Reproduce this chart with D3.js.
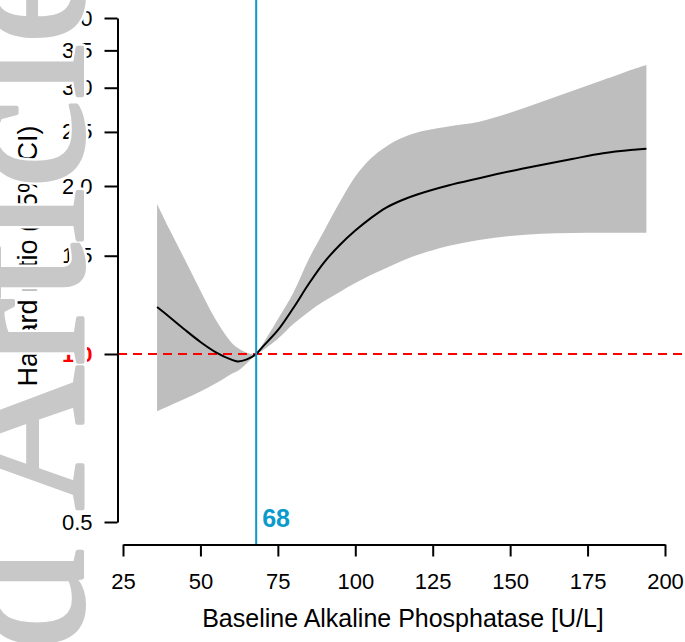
<!DOCTYPE html>
<html>
<head>
<meta charset="utf-8">
<script src="https://cdn.jsdelivr.net/npm/d3@7"></script>
<style>
  body { margin: 0; background: #fff; }
  svg { display: block; font-family: "Liberation Sans", Arial, sans-serif; }
</style>
</head>
<body>
<svg width="685" height="642"></svg>
<script>
const alp   = [36, 40, 45, 50, 55, 60, 62, 65, 68, 70, 75, 80, 85, 90, 95, 100, 105, 110, 115, 120, 130, 140, 150, 160, 170, 180, 190, 194];
// hazard ratio and its 95% CI
const hr    = [1.214, 1.165, 1.105, 1.051, 1.007, 0.977, 0.970, 0.978, 1.0, 1.029, 1.103, 1.209, 1.336, 1.461, 1.568, 1.664, 1.752, 1.830, 1.886, 1.931, 2.004, 2.065, 2.125, 2.181, 2.236, 2.289, 2.323, 2.333];
const upper = [1.857, 1.673, 1.475, 1.298, 1.151, 1.049, 1.026, 1.005, 1.0, 1.039, 1.154, 1.288, 1.480, 1.665, 1.872, 2.080, 2.240, 2.355, 2.438, 2.495, 2.557, 2.608, 2.706, 2.828, 2.960, 3.097, 3.241, 3.295];
const lower = [0.790, 0.808, 0.831, 0.857, 0.886, 0.921, 0.932, 0.963, 1.0, 1.014, 1.065, 1.132, 1.191, 1.244, 1.292, 1.340, 1.385, 1.426, 1.467, 1.504, 1.561, 1.601, 1.627, 1.643, 1.647, 1.649, 1.649, 1.649];

const xTicks = [25, 50, 75, 100, 125, 150, 175, 200];
const yTicks = [0.5, 1.0, 1.5, 2.0, 2.5, 3.0, 3.5, 4.0];
const refALP = 68;

const svg = d3.select('svg');

const x = d3.scaleLinear().domain([25, 200]).range([123, 665]);
const y = d3.scaleLog().domain([0.5, 4]).range([522, 18]);

const pts = alp.map((a, i) => ({ a: a, hr: hr[i], lo: lower[i], hi: upper[i] }));
const smooth = d3.curveCatmullRom.alpha(0.5);

// confidence band
svg.append('path')
  .datum(pts)
  .attr('fill', '#bebebe')
  .attr('d', d3.area()
    .x(d => x(d.a))
    .y0(d => y(d.lo))
    .y1(d => y(d.hi))
    .curve(smooth));

// reference line at HR = 1
svg.append('line')
  .attr('x1', 118).attr('x2', 685)
  .attr('y1', y(1)).attr('y2', y(1))
  .attr('stroke', '#ff0000')
  .attr('stroke-width', 2)
  .attr('stroke-dasharray', '9,6');

// estimate
svg.append('path')
  .datum(pts)
  .attr('fill', 'none')
  .attr('stroke', '#000')
  .attr('stroke-width', 2)
  .attr('d', d3.line()
    .x(d => x(d.a))
    .y(d => y(d.hr))
    .curve(smooth));

// vertical line at the reference value
svg.append('line')
  .attr('x1', x(refALP)).attr('x2', x(refALP))
  .attr('y1', 0).attr('y2', 544)
  .attr('stroke', '#0a9acb')
  .attr('stroke-width', 2);

svg.append('text')
  .attr('x', x(refALP) + 6)
  .attr('y', 527)
  .attr('fill', '#0a9acb')
  .attr('font-size', 25)
  .attr('font-weight', 'bold')
  .text(refALP);

// axes
const yAxis = svg.append('g')
  .attr('transform', 'translate(117.5,0)')
  .call(d3.axisLeft(y)
    .tickValues(yTicks)
    .tickFormat(d3.format('.1f'))
    .tickSize(13)
    .tickSizeOuter(0)
    .tickPadding(12));

const xAxis = svg.append('g')
  .attr('transform', 'translate(0,544.5)')
  .call(d3.axisBottom(x)
    .tickValues(xTicks)
    .tickSize(12)
    .tickSizeOuter(0)
    .tickPadding(17));

[yAxis, xAxis].forEach(g => {
  g.selectAll('path, line').attr('stroke', '#000').attr('stroke-width', 2);
  g.selectAll('text').attr('font-size', 22).attr('fill', '#000')
    .attr('font-family', null);
});

yAxis.selectAll('.tick text')
  .filter(d => d === 1)
  .attr('fill', '#ff0000')
  .attr('font-weight', 'bold');

// axis titles
svg.append('text')
  .attr('x', 403)
  .attr('y', 627)
  .attr('text-anchor', 'middle')
  .attr('font-size', 25)
  .text('Baseline Alkaline Phosphatase [U/L]');

svg.append('text')
  .attr('transform', 'translate(37,256) rotate(-90)')
  .attr('text-anchor', 'middle')
  .attr('font-size', 27)
  .text('Hazard ratio (95% CI)');

// journal watermark along the left edge: white halo first, then the grey letters
const wm = svg.append('g')
  .attr('transform', 'translate(82,-45) rotate(-90)')
  .style('font-family', '"Liberation Serif", "Times New Roman", serif')
  .attr('font-size', 200)
  .attr('text-anchor', 'end');

wm.append('text')
  .attr('fill', '#fff')
  .attr('stroke', '#fff')
  .attr('stroke-width', 9)
  .attr('stroke-linejoin', 'round')
  .text('Accepted Article');

wm.append('text')
  .attr('fill', '#c8c8c8')
  .attr('stroke', '#c8c8c8')
  .attr('stroke-width', 4)
  .attr('stroke-linejoin', 'round')
  .text('Accepted Article');
</script>
</body>
</html>
